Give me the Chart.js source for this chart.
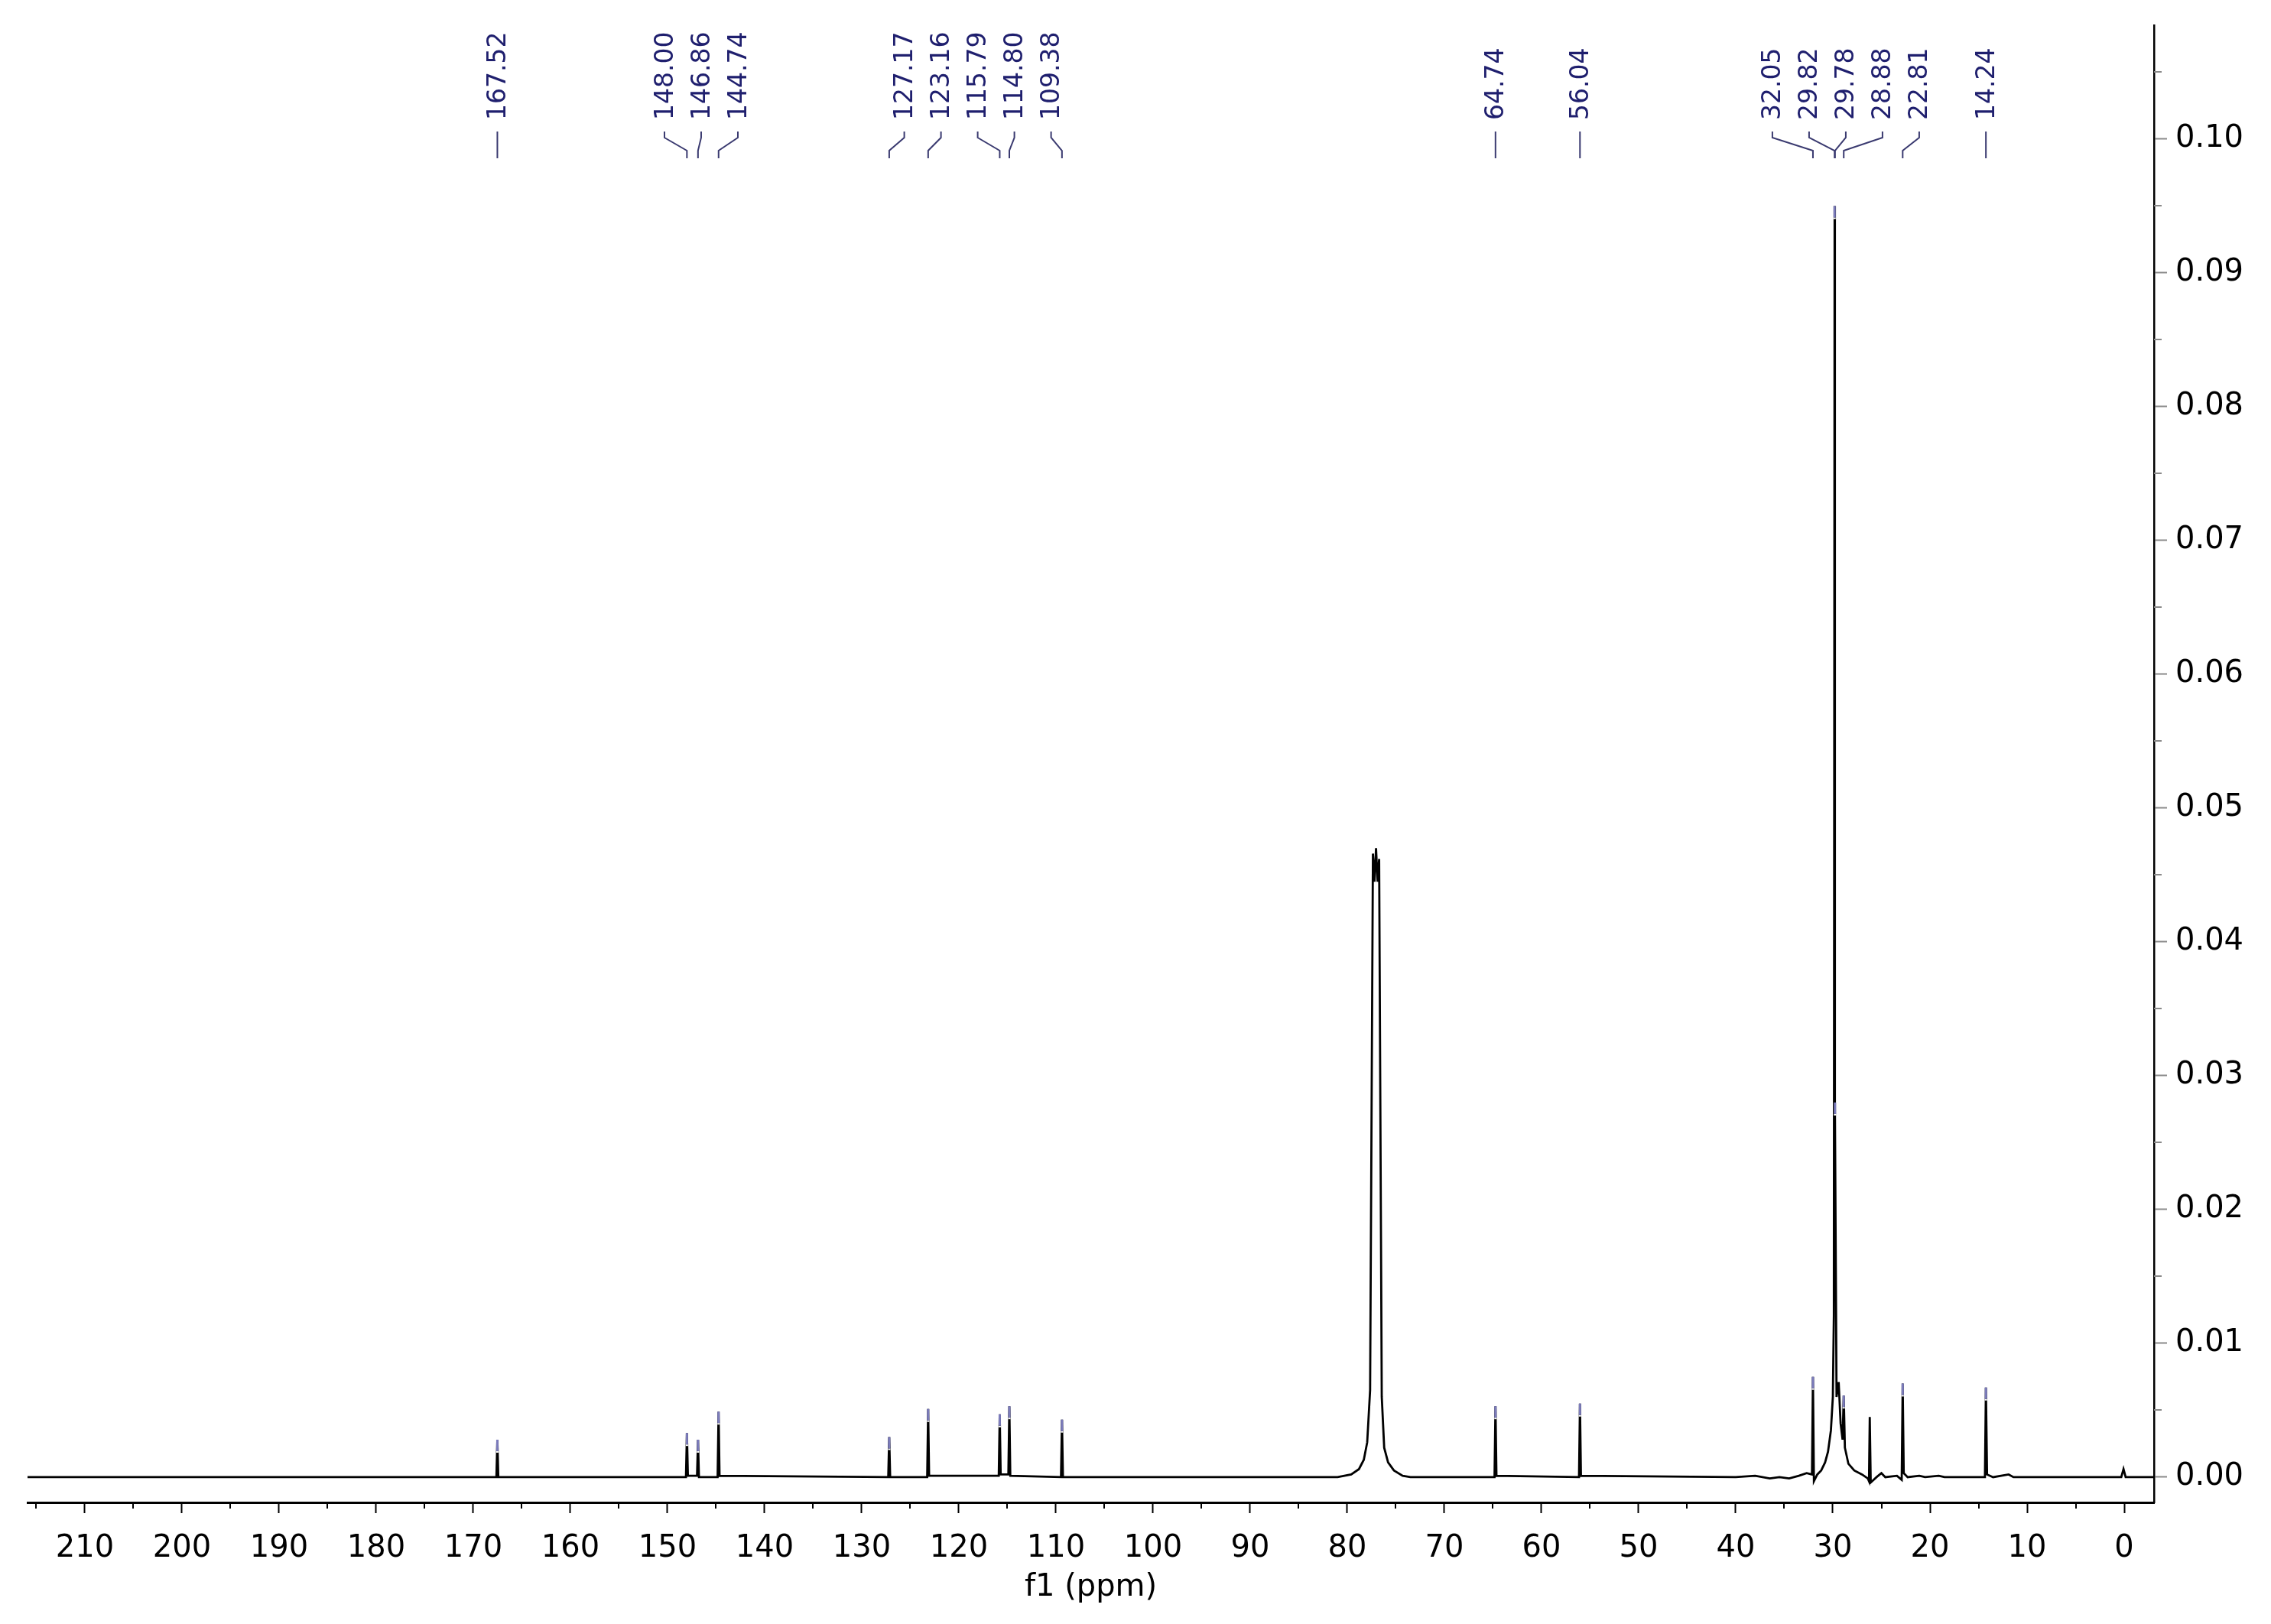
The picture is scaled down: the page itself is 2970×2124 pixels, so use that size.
<!DOCTYPE html>
<html>
<head>
<meta charset="utf-8">
<script src="https://cdn.jsdelivr.net/npm/chart.js@4.4.1/dist/chart.umd.min.js"></script>
<style>
html,body{margin:0;padding:0;background:#fff;}
canvas{display:block;}
</style>
</head>
<body>
<canvas id="c" width="2970" height="2124" style="width:2970px;height:2124px"></canvas>
<script>
// ---- spectrum: [ppm, intensity] ----
const spectrum = [
  [216.0, 0.0000],
  [167.62, 0.0000], [167.52, 0.0028], [167.42, 0.0000],
  [148.10, 0.0000], [148.00, 0.0033], [147.90, 0.0001],
  [146.96, 0.0001], [146.86, 0.0028], [146.76, 0.0000],
  [144.84, 0.0000], [144.74, 0.0049], [144.64, 0.0001],
  [127.27, 0.0000], [127.17, 0.0030], [127.07, 0.0000],
  [123.26, 0.0000], [123.16, 0.0051], [123.06, 0.0001],
  [115.89, 0.0001], [115.79, 0.0047], [115.69, 0.0002],
  [114.90, 0.0002], [114.80, 0.0053], [114.70, 0.0001],
  [109.48, 0.0000], [109.38, 0.0043], [109.28, 0.0000],
  [81.0, 0.0000], [79.6, 0.0002], [78.8, 0.0006], [78.3, 0.0013], [77.95, 0.0026], [77.65, 0.0065],
  [77.36, 0.0466], [77.20, 0.0445], [77.04, 0.0470], [76.88, 0.0445], [76.72, 0.0462],
  [76.45, 0.0060], [76.2, 0.0022], [75.8, 0.0011], [75.2, 0.0005], [74.3, 0.0001], [73.5, 0.0000],
  [64.84, 0.0000], [64.74, 0.0053], [64.64, 0.0001],
  [56.14, 0.0000], [56.04, 0.0055], [55.94, 0.0001],
  [40.0, 0.0000], [38.0, 0.0001], [36.5, -0.0001], [35.5, 0.0000], [34.5, -0.0001], [33.5, 0.0001],
  [32.7, 0.0003], [32.15, 0.0002], [32.05, 0.0075], [31.95, -0.0003],
  [31.6, 0.0002], [31.2, 0.0005], [30.8, 0.0011], [30.5, 0.0019], [30.2, 0.0035], [30.0, 0.0060], [29.9, 0.0120],
  [29.82, 0.0950], [29.80, 0.0200], [29.78, 0.0280], [29.62, 0.0060],
  [29.40, 0.0071], [29.20, 0.0040], [29.00, 0.0028], [28.88, 0.0061], [28.76, 0.0022],
  [28.4, 0.0010], [27.8, 0.0005], [27.0, 0.0002], [26.4, -0.0001], [26.28, -0.0003],
  [26.20, 0.0045], [26.10, -0.0004],
  [25.5, 0.0000], [25.0, 0.0003], [24.6, 0.0000], [23.4, 0.0001], [22.91, -0.0002],
  [22.81, 0.0070], [22.70, 0.0003], [22.3, 0.0000], [21.1, 0.0001], [20.5, 0.0000], [19.1, 0.0001], [18.5, 0.0000],
  [14.34, 0.0000], [14.24, 0.0067], [14.12, 0.0002], [13.5, 0.0000], [11.9, 0.0002], [11.4, 0.0000],
  [0.30, 0.0000], [0.07, 0.0006], [-0.15, 0.0000], [-3.1, 0.0000]
];

// ---- picked peaks (labels at the top) ----
const peakPpm = [167.52, 148.00, 146.86, 144.74, 127.17, 123.16, 115.79, 114.80, 109.38,
                 64.74, 56.04, 32.05, 29.82, 29.78, 28.88, 22.81, 14.24];
const peakInt = [0.0028, 0.0033, 0.0028, 0.0049, 0.0030, 0.0051, 0.0047, 0.0053, 0.0043,
                 0.0053, 0.0055, 0.0075, 0.0950, 0.0280, 0.0061, 0.0070, 0.0067];
const peakLabels = peakPpm.map(v => v.toFixed(2));

// ---- axes ----
const xTickValues = [210, 200, 190, 180, 170, 160, 150, 140, 130, 120, 110, 100, 90, 80, 70, 60, 50, 40, 30, 20, 10, 0];
const xMinorValues = [215, 205, 195, 185, 175, 165, 155, 145, 135, 125, 115, 105, 95, 85, 75, 65, 55, 45, 35, 25, 15, 5];
const yTickValues = [0.00, 0.01, 0.02, 0.03, 0.04, 0.05, 0.06, 0.07, 0.08, 0.09, 0.10];
const yMinorValues = [0.005, 0.015, 0.025, 0.035, 0.045, 0.055, 0.065, 0.075, 0.085, 0.095, 0.105];
const xTitle = 'f1 (ppm)';

const FONT = 'DejaVu Sans';

const annot = {
  id: 'annot',
  afterDraw(chart) {
    const ctx = chart.ctx, xs = chart.scales.x, ys = chart.scales.y, ca = chart.chartArea;
    ctx.save();
    // minor ticks
    ctx.lineWidth = 2;
    ctx.strokeStyle = '#000';
    xMinorValues.forEach(v => {
      const px = Math.round(xs.getPixelForValue(v));
      ctx.beginPath(); ctx.moveTo(px, ca.bottom + 1); ctx.lineTo(px, ca.bottom + 8); ctx.stroke();
    });
    ctx.strokeStyle = '#8a8a8a';
    yMinorValues.forEach(v => {
      const py = Math.round(ys.getPixelForValue(v));
      ctx.beginPath(); ctx.moveTo(ca.right, py); ctx.lineTo(ca.right + 10, py); ctx.stroke();
    });

    // peak-pick markers at peak tops
    peakPpm.forEach((p, i) => {
      const px = xs.getPixelForValue(p), py = ys.getPixelForValue(peakInt[i]);
      ctx.lineWidth = 3;
      ctx.strokeStyle = '#fff';
      ctx.beginPath(); ctx.moveTo(px, py + 15); ctx.lineTo(px, py + 17); ctx.stroke();
      ctx.strokeStyle = '#7c7cbc';
      ctx.beginPath(); ctx.moveTo(px, py); ctx.lineTo(px, py + 15); ctx.stroke();
    });

    // label layout: group close peaks, spread evenly
    const items = peakPpm.map((p, i) => ({ px: xs.getPixelForValue(p), text: peakLabels[i] }))
                         .sort((a, b) => a.px - b.px);
    const groups = [];
    items.forEach(it => {
      const g = groups[groups.length - 1];
      if (g && it.px - g[g.length - 1].px < 100) g.push(it); else groups.push([it]);
    });
    groups.forEach(g => {
      const c = g.reduce((s, it) => s + it.px, 0) / g.length;
      g.forEach((it, i) => { it.lx = c + (i - (g.length - 1) / 2) * 48; });
    });

    ctx.lineWidth = 2;
    ctx.strokeStyle = '#3a3a70';
    items.forEach(it => {
      ctx.beginPath();
      ctx.moveTo(it.lx, 172);
      ctx.lineTo(it.lx, 180);
      ctx.lineTo(it.px, 197);
      ctx.lineTo(it.px, 207);
      ctx.stroke();
    });
    ctx.fillStyle = '#1f1f6e';
    ctx.font = '33px "' + FONT + '"';
    ctx.textAlign = 'left';
    ctx.textBaseline = 'middle';
    items.forEach(it => {
      ctx.save();
      ctx.translate(it.lx + 2, 157);
      ctx.rotate(-Math.PI / 2);
      ctx.fillText(it.text, 0, 0);
      ctx.restore();
    });
    ctx.restore();
  }
};

new Chart(document.getElementById('c'), {
  type: 'line',
  data: {
    datasets: [{
      data: spectrum.map(p => ({ x: p[0], y: p[1] })),
      borderColor: '#000',
      borderWidth: 2.8,
      pointRadius: 0,
      tension: 0,
      fill: false
    }]
  },
  options: {
    responsive: false,
    animation: false,
    devicePixelRatio: 1,
    parsing: false,
    layout: { padding: { left: 36, top: 33, right: 0, bottom: 0 } },
    plugins: { legend: { display: false }, tooltip: { enabled: false } },
    scales: {
      x: {
        type: 'linear', reverse: true, position: 'bottom',
        min: -3.07, max: 215.9,
        afterBuildTicks: s => { s.ticks = xTickValues.map(v => ({ value: v })); },
        afterFit: s => { s.height = 159; s.paddingLeft = 0; s.paddingRight = 0; },
        ticks: {
          font: { family: FONT, size: 40 }, color: '#000', padding: 23,
          maxRotation: 0, minRotation: 0, autoSkip: false,
          callback: v => String(v)
        },
        grid: { display: true, drawOnChartArea: false, drawTicks: true, tickLength: 14, tickColor: '#000', tickWidth: 2 },
        border: { display: true, color: '#000', width: 3 },
        title: {
          display: true, text: xTitle, color: '#000',
          font: { family: FONT, size: 40 }, padding: { top: 0, bottom: 23 }
        }
      },
      y: {
        type: 'linear', position: 'right',
        min: -0.00189, max: 0.10851,
        afterBuildTicks: s => { s.ticks = yTickValues.map(v => ({ value: v })); },
        afterFit: s => { s.width = 153; s.paddingTop = 0; s.paddingBottom = 0; },
        ticks: {
          font: { family: FONT, size: 40 }, color: '#000', padding: 11, autoSkip: false,
          callback: v => Number(v).toFixed(2)
        },
        grid: { display: true, drawOnChartArea: false, drawTicks: true, tickLength: 17, tickColor: '#8a8a8a', tickWidth: 2 },
        border: { display: true, color: '#000', width: 2.5 }
      }
    }
  },
  plugins: [annot]
});
</script>
</body>
</html>
